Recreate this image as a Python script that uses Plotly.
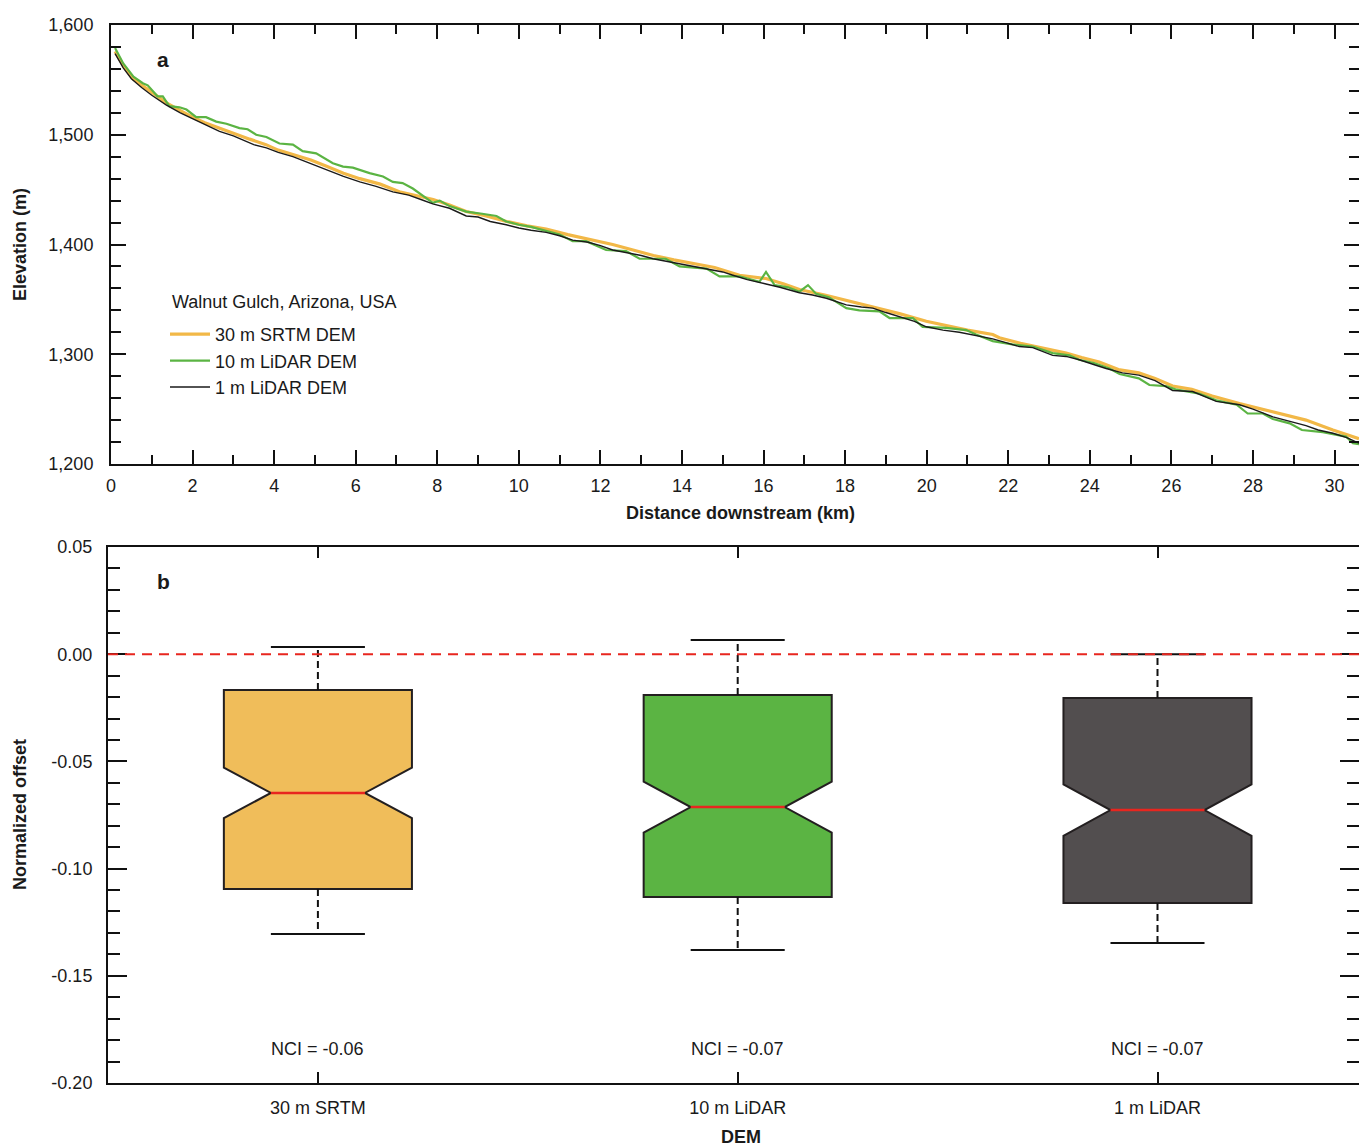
import plotly.graph_objects as go

W, H = 1359, 1146

# ---------------- Panel a: longitudinal profiles ----------------
km_srtm = [0.1, 0.3, 0.54, 0.8, 1.0, 1.36, 1.7, 2.0, 2.3, 2.66, 3.0, 3.4, 3.8, 4.1, 4.46, 4.9,
           5.3, 5.7, 6.1, 6.6, 7.07, 7.5, 7.9, 8.3, 8.71, 9.2, 9.7, 10.2, 10.67, 11.2, 11.7,
           12.3, 12.8, 13.3, 13.8, 14.27, 14.8, 15.41, 16.06, 16.5, 16.88, 17.5, 18.03, 18.6,
           19.33, 19.99, 20.5, 21.0, 21.62, 21.78, 22.3, 22.8, 23.42, 23.8, 24.23, 24.7, 25.2,
           25.6, 26.03, 26.5, 27.0, 27.67, 28.2, 28.7, 29.3, 29.96, 30.3, 30.6]
elev_srtm = [1576, 1563, 1551, 1544, 1538, 1529, 1522, 1516, 1511, 1506, 1501, 1496, 1491, 1486,
             1482, 1477, 1471, 1465, 1460, 1455, 1448, 1444, 1441, 1436, 1430, 1426, 1421, 1417,
             1414, 1409, 1405, 1400, 1395, 1390, 1386, 1383, 1379, 1372, 1369, 1364, 1359, 1354,
             1349, 1344, 1337, 1330, 1326, 1322, 1318, 1315, 1310, 1306, 1301, 1297, 1293, 1286,
             1283, 1278, 1271, 1268, 1262, 1255, 1250, 1245, 1240, 1231, 1227, 1223]

km_lidar10 = [0.1, 0.3, 0.55, 0.78, 0.9, 1.03, 1.14, 1.27, 1.43, 1.68, 1.85, 2.09, 2.33, 2.58,
              2.83, 3.15, 3.35, 3.56, 3.81, 4.13, 4.46, 4.7, 5.03, 5.44, 5.69, 5.93, 6.34, 6.67,
              6.91, 7.15, 7.4, 7.89, 8.06, 8.3, 8.71, 9.1, 9.45, 9.69, 10.0, 10.3, 10.67, 11.0,
              11.32, 11.65, 12.14, 12.63, 12.96, 13.6, 13.94, 14.6, 14.92, 15.41, 15.9, 16.06,
              16.27, 16.6, 16.88, 17.09, 17.29, 17.6, 18.03, 18.35, 18.84, 19.09, 19.66, 19.9,
              20.48, 20.97, 21.21, 21.62, 22.1, 22.6, 23.09, 23.5, 23.74, 24.1, 24.48, 24.73,
              25.2, 25.46, 25.87, 26.1, 26.69, 27.1, 27.6, 27.87, 28.24, 28.49, 28.9, 29.2,
              29.71, 30.28, 30.45, 30.6]
elev_lidar10 = [1579, 1565, 1553, 1547, 1545, 1539, 1535, 1535, 1526, 1525, 1523, 1516, 1516, 1512,
                1510, 1506, 1505, 1500, 1498, 1492, 1491, 1485, 1483, 1474, 1471, 1470, 1465, 1462,
                1457, 1456, 1451, 1438, 1440, 1435, 1430, 1428, 1426, 1421, 1418, 1416, 1412, 1409,
                1403, 1403, 1395, 1394, 1387, 1387, 1380, 1378, 1371, 1371, 1366, 1375,
                1363, 1361, 1357, 1363, 1355, 1352, 1342, 1340, 1339, 1333, 1333, 1325,
                1324, 1322, 1318, 1312, 1309, 1307, 1301, 1299, 1295, 1292, 1287, 1282,
                1278, 1272, 1271, 1268, 1264, 1258, 1254, 1246, 1246, 1241, 1237, 1231,
                1229, 1225, 1219, 1218]

km_lidar1 = [0.1, 0.3, 0.5, 0.75, 1.0, 1.36, 1.7, 2.09, 2.4, 2.66, 3.0, 3.23, 3.5, 3.81, 4.1,
             4.46, 4.8, 5.28, 5.7, 6.1, 6.5, 6.91, 7.3, 7.6, 7.89, 8.3, 8.71, 9.0, 9.3, 9.69,
             10.0, 10.3, 10.67, 11.0, 11.32, 11.7, 12.0, 12.3, 12.7, 13.0, 13.29, 13.7, 14.0,
             14.27, 14.6, 15.0, 15.25, 15.6, 16.06, 16.4, 16.88, 17.2, 17.54, 18.03, 18.4, 18.68,
             19.0, 19.33, 19.7, 19.99, 20.4, 20.8, 21.2, 21.62, 21.9, 22.27, 22.6, 23.09, 23.42,
             23.74, 24.15, 24.4, 24.8, 25.2, 25.6, 26.03, 26.52, 26.8, 27.1, 27.67, 28.0, 28.49,
             28.9, 29.3, 29.6, 29.96, 30.3, 30.6]
elev_lidar1 = [1574, 1561, 1551, 1543, 1536, 1527, 1520, 1513, 1508, 1503, 1499, 1495, 1491, 1488,
               1484, 1480, 1475, 1468, 1462, 1457, 1453, 1448, 1445, 1441, 1437, 1433, 1426, 1425,
               1421, 1418, 1415, 1413, 1411, 1408, 1404, 1402, 1399, 1395, 1392, 1390, 1387, 1384,
               1382, 1380, 1378, 1375, 1372, 1368, 1364, 1361, 1356, 1354, 1351, 1345, 1343, 1342,
               1338, 1334, 1330, 1325, 1322, 1320, 1317, 1314, 1311, 1307, 1306, 1299, 1298,
               1295, 1290, 1287, 1283, 1281, 1276, 1267, 1266, 1262, 1257, 1254, 1250, 1243,
               1239, 1235, 1231, 1228, 1224, 1219]

profile_names = ["30 m SRTM DEM", "10 m LiDAR DEM", "1 m LiDAR DEM"]
legend_title = "Walnut Gulch, Arizona, USA"

# ---------------- Panel b: normalized offset box plots ----------------
dem_labels = ["30 m SRTM", "10 m LiDAR", "1 m LiDAR"]
dem_pos = [0, 1, 2]
q1 = [-0.1095, -0.1132, -0.1160]
median = [-0.0647, -0.0713, -0.0727]
q3 = [-0.0167, -0.0190, -0.0204]
notch_span = [0.0118, 0.0119, 0.0120]
whisker_low = [-0.1305, -0.1380, -0.1347]
whisker_high = [0.0034, 0.0066, 0.0000]
nci_text = ["NCI = -0.06", "NCI = -0.07", "NCI = -0.07"]
ytick_vals_b = [0.05, 0.0, -0.05, -0.10, -0.15, -0.20]
ytick_text_b = ["0.05", "0.00", "-0.05", "-0.10", "-0.15", "-0.20"]

# ---------------- styles ----------------
FONT = "Liberation Sans, Arial, sans-serif"
FS = 18
line_colors = ["#F2B847", "#5BB443", "#1A1A1A"]
line_widths = [3.2, 2.2, 1.4]
box_colors = ["#F0BD5A", "#5BB443", "#524E4F"]
BOX_W = 0.448
CAP_HALF = 0.112
MED_HALF = 0.112

fig = go.Figure()

for km, el, name, c, w in zip([km_srtm, km_lidar10, km_lidar1],
                              [elev_srtm, elev_lidar10, elev_lidar1],
                              profile_names, line_colors, line_widths):
    fig.add_trace(go.Scatter(x=km, y=el, mode="lines", name=name, legendgroup=name,
                             line=dict(color=c, width=w), xaxis="x", yaxis="y"))

for i, lab in enumerate(dem_labels):
    fig.add_trace(go.Box(
        x=[dem_pos[i]], q1=[q1[i]], median=[median[i]], q3=[q3[i]],
        lowerfence=[q1[i]], upperfence=[q3[i]], notchspan=[notch_span[i]],
        notched=True, notchwidth=0.25, width=BOX_W, whiskerwidth=0,
        fillcolor=box_colors[i], line=dict(color="#231F20", width=2),
        boxpoints=False, showlegend=False, name=lab, xaxis="x2", yaxis="y2"))
    p = dem_pos[i]
    # dashed whiskers
    fig.add_trace(go.Scatter(x=[p, p], y=[q3[i], whisker_high[i]], mode="lines",
                             line=dict(color="#111", width=2, dash="7px,4px"),
                             showlegend=False, xaxis="x2", yaxis="y2", hoverinfo="skip"))
    fig.add_trace(go.Scatter(x=[p, p], y=[q1[i], whisker_low[i]], mode="lines",
                             line=dict(color="#111", width=2, dash="7px,4px"),
                             showlegend=False, xaxis="x2", yaxis="y2", hoverinfo="skip"))
    # caps
    for wv in (whisker_high[i], whisker_low[i]):
        fig.add_trace(go.Scatter(x=[p - CAP_HALF, p + CAP_HALF], y=[wv, wv], mode="lines",
                                 line=dict(color="#111", width=2),
                                 showlegend=False, xaxis="x2", yaxis="y2", hoverinfo="skip"))
    # red median
    fig.add_trace(go.Scatter(x=[p - MED_HALF, p + MED_HALF], y=[median[i], median[i]],
                             mode="lines", line=dict(color="#E8261F", width=2.5),
                             showlegend=False, xaxis="x2", yaxis="y2", hoverinfo="skip"))

tickfont = dict(family=FONT, size=FS, color="#1A1A1A")
common = dict(showline=True, linecolor="#111", linewidth=2, mirror="ticks", ticks="inside",
              tickcolor="#111", tickwidth=2, showgrid=False, zeroline=False, tickfont=tickfont,
              automargin=False)

xa_dom = [111 / W, 1.0]
xb_dom = [108 / W, 1.0]
ya_dom = [1 - 464 / H, 1 - 25 / H]
yb_dom = [1 - 1083 / H, 1 - 547 / H]

fig.update_layout(
    template="none",
    width=W, height=H, margin=dict(l=0, r=0, t=0, b=0, pad=0),
    paper_bgcolor="white", plot_bgcolor="white",
    font=dict(family=FONT, size=FS, color="#1A1A1A"),
    xaxis=dict(domain=xa_dom, anchor="y", range=[0, 30.6], dtick=2, tick0=0, ticklen=14,
               ticklabelstandoff=4,
               minor=dict(dtick=1, ticklen=9, ticks="inside", tickcolor="#111", tickwidth=2),
               **common),
    yaxis=dict(domain=ya_dom, anchor="x", range=[1200, 1600], dtick=100, tick0=1200,
               tickformat=",d", ticklen=15, ticklabelstandoff=12,
               minor=dict(dtick=20, ticklen=10, ticks="inside", tickcolor="#111", tickwidth=2),
               **common),
    xaxis2=dict(domain=xb_dom, anchor="y2", range=[-0.5, 2.48], tickvals=dem_pos,
                ticktext=dem_labels, ticklen=11, ticklabelstandoff=7, **common),
    yaxis2=dict(domain=yb_dom, anchor="x2", range=[-0.20, 0.05], tickvals=ytick_vals_b,
                ticktext=ytick_text_b, ticklen=19, ticklabelstandoff=10,
                minor=dict(dtick=0.01, ticklen=12, ticks="inside", tickcolor="#111", tickwidth=2),
                **common),
    showlegend=True,
    legend=dict(x=165 / W, y=1 - 316 / H, xanchor="left", yanchor="top",
                bgcolor="rgba(0,0,0,0)", borderwidth=0, tracegroupgap=0, itemwidth=40,
                font=dict(family=FONT, size=FS, color="#1A1A1A")),
    shapes=[dict(type="line", xref="x2 domain", yref="y2", x0=0, x1=1, y0=0, y1=0,
                 layer="above", line=dict(color="#E8261F", width=2, dash="10px,7px"))],
)

ann = []
ann.append(dict(text="<b>Elevation (m)</b>", x=20 / W, y=1 - 245 / H, textangle=-90))
ann.append(dict(text="<b>Distance downstream (km)</b>", x=740 / W, y=1 - 513 / H))
ann.append(dict(text="<b>Normalized offset</b>", x=20 / W, y=1 - 815 / H, textangle=-90))
ann.append(dict(text="<b>DEM</b>", x=741 / W, y=1 - 1137 / H))
ann.append(dict(text="<b>a</b>", x=163 / W, y=1 - 60 / H, font=dict(family=FONT, size=21)))
ann.append(dict(text="<b>b</b>", x=163 / W, y=1 - 581 / H, font=dict(family=FONT, size=21)))
ann.append(dict(text=legend_title, x=170 / W, y=1 - 302 / H, xanchor="left"))
for a in ann:
    a.update(xref="paper", yref="paper", yanchor="middle", showarrow=False)
    a.setdefault("xanchor", "center")
    a.setdefault("font", dict(family=FONT, size=FS, color="#1A1A1A"))
for i, t in enumerate(nci_text):
    ann.append(dict(text=t, x=dem_pos[i], y=-0.184, xref="x2", yref="y2", showarrow=False,
                    xanchor="center", yanchor="middle",
                    font=dict(family=FONT, size=FS, color="#1A1A1A")))
fig.update_layout(annotations=ann)

fig.write_html("out.html")
